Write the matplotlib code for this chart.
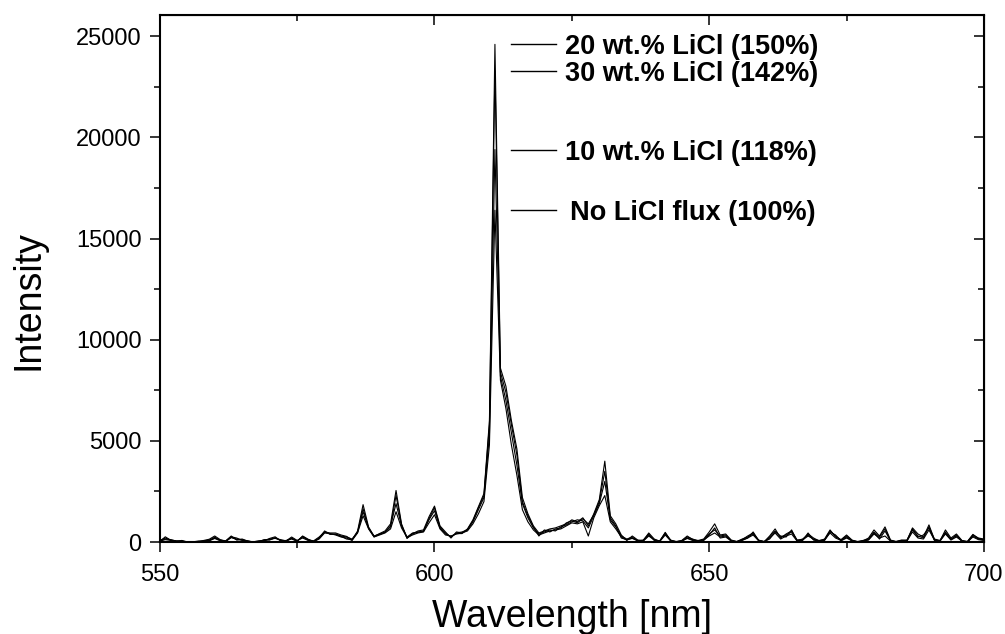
import numpy as np
import matplotlib.pyplot as plt
from matplotlib.ticker import MultipleLocator

plt.rcParams['font.family'] = ['Liberation Sans', 'DejaVu Sans']

# wavelength grid, 1 nm steps
wavelength = np.arange(550, 701)

# emission spectra (550..700 nm)
no_licl = [
    50, 120, 80, 40, 60, 0, 0, 20, 60, 100,              # 550-559
    240, 80, 30, 220, 150, 100, 60, 0, 30, 80,           # 560-569
    120, 200, 90, 40, 200, 60, 250, 100, 20, 150,        # 570-579
    450, 420, 350, 250, 200, 80, 450, 1300, 650, 250,    # 580-589
    350, 450, 650, 1500, 700, 220, 350, 450, 500, 950,   # 590-599
    1350, 650, 350, 300, 400, 450, 550, 900, 1400, 2000,  # 600-609
    4800, 16400, 8000, 6600, 4800, 3300, 1600, 1000, 600, 350,  # 610-619
    450, 550, 600, 650, 800, 950, 900, 1000, 300, 1200,  # 620-629
    1800, 2300, 1000, 650, 250, 100, 200, 80, 50, 300,   # 630-639
    100, 30, 350, 50, 0, 40, 200, 100, 60, 100,          # 640-649
    300, 450, 250, 300, 50, 0, 100, 200, 350, 60,        # 650-659
    0, 200, 450, 150, 300, 400, 50, 100, 300, 150,       # 660-669
    50, 100, 450, 200, 80, 250, 50, 0, 50, 100,          # 670-679
    400, 200, 300, 50, 0, 60, 50, 500, 200, 150,         # 680-689
    600, 100, 50, 400, 100, 250, 50, 0, 300, 150,        # 690-699
    100,                                                 # 700
]
licl_10 = [
    80, 200, 100, 60, 30, 0, 10, 50, 30, 60,
    180, 60, 60, 300, 100, 120, 30, 10, 60, 50,
    180, 260, 60, 80, 150, 40, 300, 140, 40, 200,
    550, 380, 400, 300, 250, 150, 500, 1500, 700, 300,
    400, 500, 800, 1900, 800, 250, 450, 500, 550, 1100,
    1550, 700, 450, 250, 450, 500, 600, 1000, 1600, 2200,
    5300, 19400, 8200, 7000, 5400, 3800, 1900, 1200, 700, 400,
    500, 600, 550, 750, 850, 1000, 1100, 1050, 700, 1300,
    1900, 3000, 1100, 750, 300, 150, 250, 50, 100, 400,
    80, 60, 450, 80, 20, 60, 250, 150, 50, 120,
    400, 600, 300, 350, 80, 20, 150, 250, 400, 100,
    20, 250, 550, 250, 350, 500, 80, 150, 350, 120,
    80, 120, 550, 300, 100, 300, 80, 20, 80, 150,
    500, 250, 650, 80, 20, 80, 100, 650, 300, 200,
    750, 150, 80, 500, 150, 300, 60, 20, 350, 200,
    150,
]
licl_20 = [
    30, 260, 90, 30, 80, 10, 0, 30, 80, 140,
    300, 120, 50, 260, 200, 80, 40, 20, 40, 100,
    150, 180, 120, 60, 250, 80, 200, 80, 60, 250,
    500, 450, 450, 350, 280, 100, 550, 1850, 750, 280,
    420, 550, 900, 2550, 900, 200, 400, 550, 600, 1250,
    1780, 800, 500, 200, 500, 450, 650, 1100, 1750, 2400,
    6000, 24600, 8600, 7700, 6000, 4600, 2200, 1400, 800, 450,
    550, 650, 700, 800, 900, 1100, 1000, 1200, 800, 1400,
    2100, 4000, 1300, 900, 350, 80, 300, 100, 80, 450,
    150, 40, 400, 100, 10, 80, 300, 120, 80, 150,
    500, 900, 350, 400, 100, 30, 120, 300, 450, 80,
    10, 300, 650, 200, 400, 550, 100, 120, 400, 200,
    60, 150, 600, 250, 120, 350, 100, 10, 60, 200,
    600, 300, 750, 100, 30, 100, 80, 700, 400, 250,
    850, 120, 60, 600, 200, 400, 80, 30, 380, 180,
    120,
]
licl_30 = [
    60, 150, 120, 50, 40, 0, 20, 10, 40, 80,
    200, 100, 40, 240, 120, 150, 50, 0, 20, 120,
    100, 220, 70, 50, 180, 50, 280, 120, 30, 180,
    480, 400, 380, 280, 150, 120, 480, 1650, 680, 260,
    380, 480, 750, 2300, 850, 180, 420, 480, 520, 1150,
    1700, 750, 400, 280, 420, 420, 620, 1050, 1700, 2300,
    5800, 23300, 8400, 7400, 5800, 4300, 2000, 1300, 750, 300,
    600, 500, 650, 700, 950, 1050, 950, 1150, 900, 1350,
    2000, 3500, 1200, 800, 200, 120, 180, 60, 60, 350,
    120, 50, 480, 60, 30, 50, 180, 80, 40, 80,
    350, 700, 200, 250, 60, 10, 80, 200, 500, 80,
    30, 150, 500, 300, 250, 600, 60, 80, 450, 100,
    40, 80, 500, 350, 60, 200, 60, 30, 40, 120,
    450, 150, 550, 60, 10, 50, 60, 600, 250, 350,
    700, 80, 40, 450, 120, 350, 40, 10, 250, 120,
    80,
]

series = [no_licl, licl_10, licl_20, licl_30]
labels = ["No LiCl flux (100%)", "10 wt.% LiCl (118%)",
          "20 wt.% LiCl (150%)", "30 wt.% LiCl (142%)"]

fig = plt.figure(figsize=(10.05, 6.34), dpi=100)
ax = fig.add_axes([0.159, 0.145, 0.820, 0.831])

for s in series:
    ax.plot(wavelength, s, color='black', lw=0.8)

# labels next to the peak heights
for s, lab in zip(series, labels):
    top = max(s)
    x0 = 623.8 if not lab.startswith("No") else 624.6
    ax.plot([614, 622.2], [top, top], color='black', lw=1.0)
    ax.text(x0, top - 150, lab, fontsize=19.5, fontweight='bold',
            ha='left', va='center')

ax.set_xlim(550, 700)
ax.set_ylim(0, 26040)
ax.xaxis.set_major_locator(MultipleLocator(50))
ax.xaxis.set_minor_locator(MultipleLocator(25))
ax.yaxis.set_major_locator(MultipleLocator(5000))
ax.yaxis.set_minor_locator(MultipleLocator(2500))

ax.tick_params(which='both', direction='out', width=1.1, labelsize=17,
               top=False, right=False)
ax.tick_params(which='major', length=7)
ax.tick_params(axis='x', which='major', pad=9)
ax.tick_params(axis='y', which='major', pad=6)
ax.tick_params(which='minor', length=4.5)
for sp in ax.spines.values():
    sp.set_linewidth(1.5)

# inward ticks on the top and right edges
axt = ax.secondary_xaxis('top')
axt.xaxis.set_major_locator(MultipleLocator(50))
axt.xaxis.set_minor_locator(MultipleLocator(25))
axt.tick_params(which='both', direction='in', width=1.1, labeltop=False)
axt.tick_params(which='major', length=7)
axt.tick_params(which='minor', length=4.5)
axr = ax.secondary_yaxis('right')
axr.yaxis.set_major_locator(MultipleLocator(5000))
axr.yaxis.set_minor_locator(MultipleLocator(2500))
axr.tick_params(which='both', direction='in', width=1.1, labelright=False)
axr.tick_params(which='major', length=7)
axr.tick_params(which='minor', length=4.5)

ax.set_xlabel("Wavelength [nm]", fontsize=27, labelpad=9)
ax.set_ylabel("Intensity", fontsize=27)
ax.yaxis.set_label_coords(-0.138, 0.46)

fig.savefig("out.png", dpi=100)
